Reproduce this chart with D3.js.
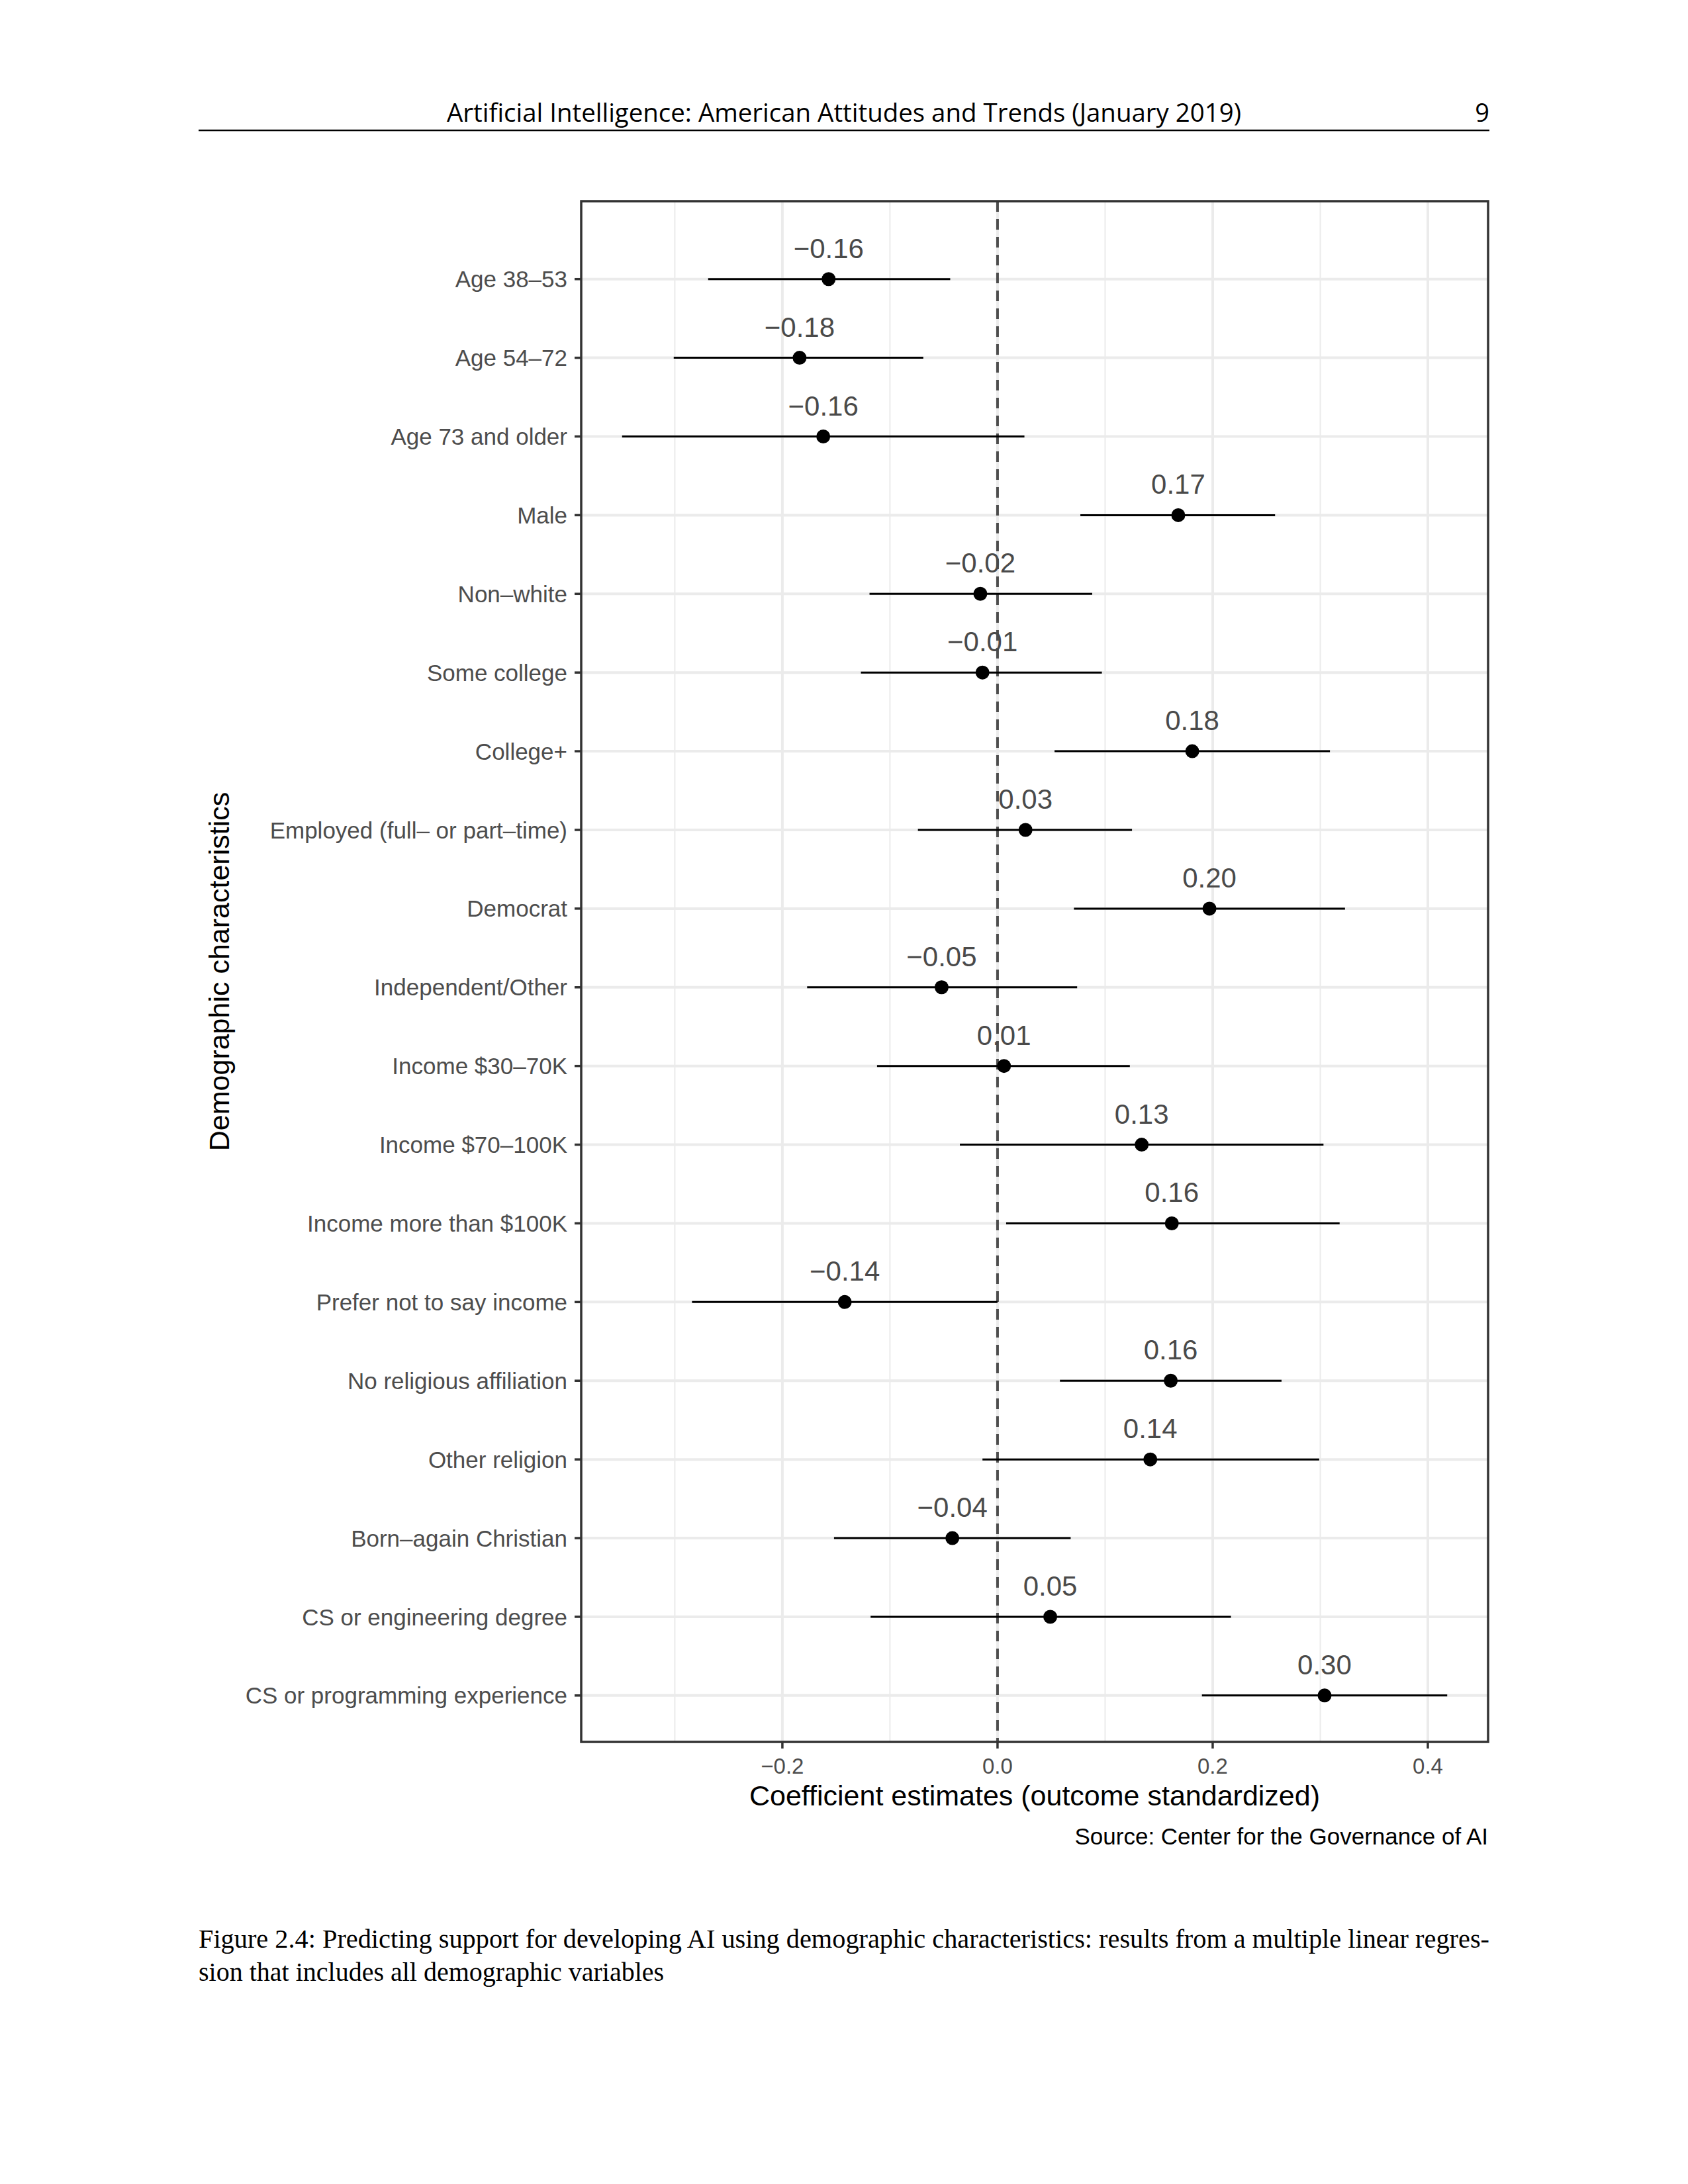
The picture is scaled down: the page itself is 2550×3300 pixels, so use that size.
<!DOCTYPE html>
<html>
<head>
<meta charset="utf-8">
<script src="https://cdn.jsdelivr.net/npm/d3@7"></script>
<style>
  body { margin: 0; background: #fff; }
  text { font-family: "Liberation Sans", Arial, sans-serif; }
</style>
</head>
<body>
<svg width="2550" height="3300"></svg>
<script>
const categories = [
  "Age 38–53",
  "Age 54–72",
  "Age 73 and older",
  "Male",
  "Non–white",
  "Some college",
  "College+",
  "Employed (full– or part–time)",
  "Democrat",
  "Independent/Other",
  "Income $30–70K",
  "Income $70–100K",
  "Income more than $100K",
  "Prefer not to say income",
  "No religious affiliation",
  "Other religion",
  "Born–again Christian",
  "CS or engineering degree",
  "CS or programming experience",
];
const estimates = [
  -0.157, -0.184, -0.162, 0.168, -0.016, -0.014, 0.181, 0.026, 0.197, -0.052,
  0.006, 0.134, 0.162, -0.142, 0.161, 0.142, -0.042, 0.049, 0.304,
];
const lower = [
  -0.269, -0.301, -0.349, 0.077, -0.119, -0.127, 0.053, -0.074, 0.071, -0.177,
  -0.112, -0.035, 0.008, -0.284, 0.058, -0.014, -0.152, -0.118, 0.19,
];
const upper = [
  -0.044, -0.069, 0.025, 0.258, 0.088, 0.097, 0.309, 0.125, 0.323, 0.074,
  0.123, 0.303, 0.318, 0.0, 0.264, 0.299, 0.068, 0.217, 0.418,
];
const xTicks = [-0.2, 0, 0.2, 0.4];
const xMinor = [-0.3, -0.1, 0.1, 0.3];

const svg = d3.select("svg");

// plot panel
const panel = { left: 878, right: 2248, top: 304, bottom: 2632 };

const x = d3.scaleLinear().domain([-0.387, 0.456]).range([panel.left, panel.right]);
// discrete rows, ggplot-like padding (more room at the top)
const y = d3.scaleLinear().domain([-0.99, categories.length - 0.41]).range([panel.top, panel.bottom]);

const rows = categories.map((c, i) => ({
  name: c, est: estimates[i], lo: lower[i], hi: upper[i], i: i,
}));

// page header
svg.append("text")
  .attr("x", 1275).attr("y", 184)
  .attr("text-anchor", "middle")
  .style("font-family", "'Open Sans', sans-serif")
  .style("font-size", "38px")
  .attr("textLength", 1200).attr("lengthAdjust", "spacingAndGlyphs")
  .text("Artificial Intelligence: American Attitudes and Trends (January 2019)");
svg.append("text")
  .attr("x", 2250).attr("y", 184)
  .attr("text-anchor", "end")
  .style("font-family", "'Open Sans', sans-serif")
  .style("font-size", "38px")
  .text("9");
svg.append("line")
  .attr("x1", 300).attr("x2", 2250).attr("y1", 197).attr("y2", 197)
  .attr("stroke", "#000").attr("stroke-width", 2.5);

// grid
const grid = svg.append("g");
grid.selectAll(".minor")
  .data(xMinor)
  .join("line")
  .attr("x1", (d) => x(d)).attr("x2", (d) => x(d))
  .attr("y1", panel.top).attr("y2", panel.bottom)
  .attr("stroke", "#EBEBEB").attr("stroke-width", 2);
grid.selectAll(".major")
  .data(xTicks)
  .join("line")
  .attr("x1", (d) => x(d)).attr("x2", (d) => x(d))
  .attr("y1", panel.top).attr("y2", panel.bottom)
  .attr("stroke", "#EBEBEB").attr("stroke-width", 4);
grid.selectAll(".hrow")
  .data(rows)
  .join("line")
  .attr("x1", panel.left).attr("x2", panel.right)
  .attr("y1", (d) => y(d.i)).attr("y2", (d) => y(d.i))
  .attr("stroke", "#EBEBEB").attr("stroke-width", 4);

// zero reference line
svg.append("line")
  .attr("x1", x(0)).attr("x2", x(0))
  .attr("y1", panel.top).attr("y2", panel.bottom)
  .attr("stroke", "#4d4d4d").attr("stroke-width", 4)
  .attr("stroke-dasharray", "16,11");

// error bars
svg.append("g")
  .selectAll("line")
  .data(rows)
  .join("line")
  .attr("x1", (d) => x(d.lo)).attr("x2", (d) => x(d.hi))
  .attr("y1", (d) => y(d.i)).attr("y2", (d) => y(d.i))
  .attr("stroke", "#000").attr("stroke-width", 3);

// points
svg.append("g")
  .selectAll("circle")
  .data(rows)
  .join("circle")
  .attr("cx", (d) => x(d.est)).attr("cy", (d) => y(d.i))
  .attr("r", 10.5)
  .attr("fill", "#000");

// value labels
const fmt = d3.format(".2f");
svg.append("g")
  .selectAll("text")
  .data(rows)
  .join("text")
  .attr("x", (d) => x(d.est)).attr("y", (d) => y(d.i) - 32)
  .attr("text-anchor", "middle")
  .style("font-size", "42px")
  .attr("fill", "#4a4a4a")
  .text((d) => fmt(d.est));

// panel border
svg.append("rect")
  .attr("x", panel.left).attr("y", panel.top)
  .attr("width", panel.right - panel.left).attr("height", panel.bottom - panel.top)
  .attr("fill", "none").attr("stroke", "#333").attr("stroke-width", 3.5);

// y axis
const yAxis = svg.append("g");
yAxis.selectAll("line")
  .data(rows)
  .join("line")
  .attr("x1", panel.left - 10).attr("x2", panel.left)
  .attr("y1", (d) => y(d.i)).attr("y2", (d) => y(d.i))
  .attr("stroke", "#333").attr("stroke-width", 3.5);
yAxis.selectAll("text")
  .data(rows)
  .join("text")
  .attr("x", 857).attr("y", (d) => y(d.i))
  .attr("dy", "0.36em")
  .attr("text-anchor", "end")
  .style("font-size", "35px")
  .attr("fill", "#4D4D4D")
  .text((d) => d.name);

// x axis
const xAxis = svg.append("g");
xAxis.selectAll("line")
  .data(xTicks)
  .join("line")
  .attr("x1", (d) => x(d)).attr("x2", (d) => x(d))
  .attr("y1", panel.bottom).attr("y2", panel.bottom + 10)
  .attr("stroke", "#333").attr("stroke-width", 3.5);
xAxis.selectAll("text")
  .data(xTicks)
  .join("text")
  .attr("x", (d) => x(d)).attr("y", 2680)
  .attr("text-anchor", "middle")
  .style("font-size", "33px")
  .attr("fill", "#4D4D4D")
  .text((d) => d3.format(".1f")(d));

// axis titles
svg.append("text")
  .attr("x", (panel.left + panel.right) / 2).attr("y", 2728)
  .attr("text-anchor", "middle")
  .style("font-size", "43px")
  .text("Coefficient estimates (outcome standardized)");
svg.append("text")
  .attr("transform", `translate(346,${(panel.top + panel.bottom) / 2}) rotate(-90)`)
  .attr("text-anchor", "middle")
  .style("font-size", "43px")
  .text("Demographic characteristics");

svg.append("text")
  .attr("x", panel.right).attr("y", 2787)
  .attr("text-anchor", "end")
  .style("font-size", "35px")
  .text("Source: Center for the Governance of AI");

// caption
const cap = svg.append("g");
cap.append("text")
  .attr("x", 300).attr("y", 2943)
  .style("font-family", "'Liberation Serif', serif")
  .style("font-size", "40px")
  .attr("textLength", 1950).attr("lengthAdjust", "spacingAndGlyphs")
  .text("Figure 2.4: Predicting support for developing AI using demographic characteristics: results from a multiple linear regres-");
cap.append("text")
  .attr("x", 300).attr("y", 2993)
  .style("font-family", "'Liberation Serif', serif")
  .style("font-size", "40px")
  .text("sion that includes all demographic variables");
</script>
</body>
</html>
